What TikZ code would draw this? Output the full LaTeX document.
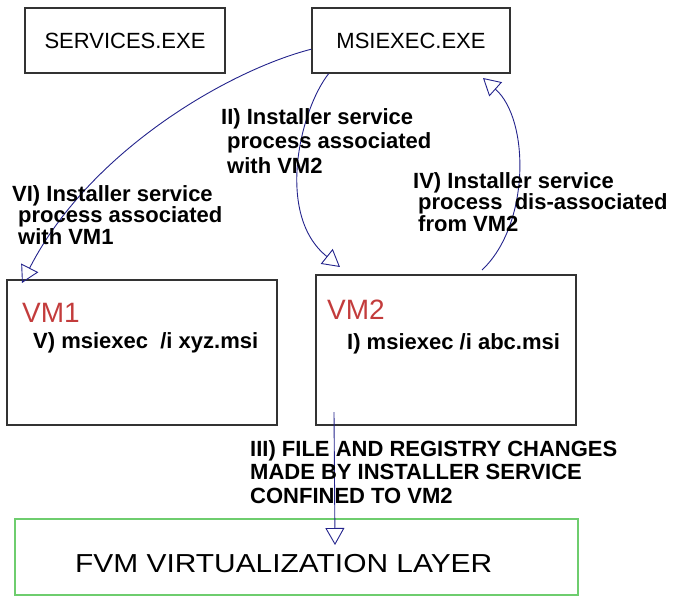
\documentclass[tikz,border=0pt]{standalone}
\usepackage{fontspec}
\setmainfont{Liberation Sans}
\newfontfamily\widefont[FakeStretch=1.15]{Liberation Sans}
\usetikzlibrary{arrows.meta}
\definecolor{arrowblue}{RGB}{35,35,140}
\definecolor{vmred}{RGB}{195,60,60}
\definecolor{layergreen}{RGB}{110,205,110}
\tikzset{
  box/.style={draw=black!80,line width=1.6pt,inner sep=0pt,font=\fontsize{22}{26}\selectfont},
  flow/.style={draw=arrowblue,line width=0.9pt,-{Triangle[open,length=17pt,width=19pt]}},
  lbl/.style={anchor=north west,inner sep=0pt,align=left},
  cmd/.style={anchor=base west,inner sep=0pt,font=\fontsize{22}{24}\selectfont\bfseries},
  vmname/.style={anchor=base west,inner sep=0pt,text=vmred,font=\fontsize{28}{30}\selectfont},
}
\begin{document}
\begin{tikzpicture}[x=1pt,y=1pt,yscale=-1,xscale=1]
    \useasboundingbox (0,0) rectangle (675,597);

    %Shape: Rectangle
    \node [box,minimum width=200pt,minimum height=65pt] (services) at (125,40.5) {SERVICES.EXE};
    %Shape: Rectangle
    \node [box,minimum width=198pt,minimum height=65pt] (msiexec) at (411,40.5) {MSIEXEC.EXE};
    %Shape: Rectangle
    \node [box,minimum width=270pt,minimum height=145pt] (vmone) at (142,352.5) {};
    %Shape: Rectangle
    \node [box,minimum width=260pt,minimum height=150pt] (vmtwo) at (446,350) {};
    %Shape: Rectangle
    \node [box,draw=layergreen,minimum width=563pt,minimum height=76pt] (fvmlayer) at (296.5,557) {};

    %free ends of the connectors
    \coordinate (assocOneTip) at (22,283);
    \coordinate (assocTwoTip) at (340,267);
    \coordinate (dissocFrom) at (482,270);
    \coordinate (dissocTip) at (483,78);
    \coordinate (changesFrom) at (334,412);
    \coordinate (changesTip) at (335,545);

    %Curve Lines
    \draw [flow] (msiexec.185.5) .. controls (230,70) and (90,150) .. (assocOneTip) ;
    %Curve Lines
    \draw [flow] (msiexec.202.4) .. controls (300,110) and (275,215) .. (assocTwoTip) ;
    %Curve Lines
    \draw [flow] (dissocFrom) .. controls (530,225) and (530,120) .. (dissocTip) ;
    %Straight Lines
    \draw [flow] (changesFrom) -- (changesTip) ;

    % Text Node
    \node [lbl,font=\fontsize{22}{24.5}\selectfont\bfseries] (assocTwoText) at (221,108) {II) Installer service\\\hspace{6pt}process associated\\\hspace{6pt}with VM2};
    % Text Node
    \node [lbl,font=\fontsize{22}{21.5}\selectfont\bfseries] (assocOneText) at (12,185) {VI) Installer service\\\hspace{6pt}process associated\\\hspace{6pt}with VM1};
    % Text Node
    \node [lbl,font=\fontsize{22}{21.5}\selectfont\bfseries] (dissocText) at (413,172) {IV) Installer service\\\hspace{5pt}process \ dis-associated\\\hspace{5pt}from VM2};
    % Text Node
    \node [lbl,font=\fontsize{22}{23.5}\selectfont\bfseries] (changesText) at (250,440) {III) FILE AND REGISTRY CHANGES\\MADE BY INSTALLER SERVICE\\CONFINED TO VM2};
    % Text Node
    \node [vmname] (vmoneName) at (22,322) {VM1};
    % Text Node
    \node [vmname] (vmtwoName) at (327,319) {VM2};
    % Text Node
    \node [cmd] (vmoneCmd) at (33,348) {V) msiexec \ /i xyz.msi};
    % Text Node
    \node [cmd] (vmtwoCmd) at (347,349) {I) msiexec /i abc.msi};
    % Text Node
    \node [anchor=base west,inner sep=0pt,font=\widefont\fontsize{26}{28}\selectfont] (fvmText) at (75,572) {FVM VIRTUALIZATION LAYER};

\end{tikzpicture}
\end{document}
